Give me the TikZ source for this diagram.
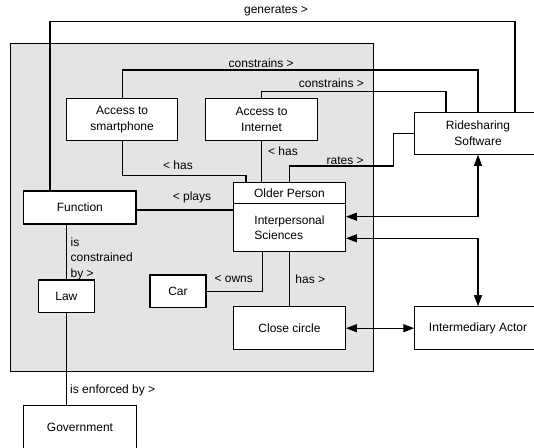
\documentclass[tikz,border=0pt]{standalone}
\usepackage{fontspec}
\setmainfont{Liberation Sans}
\usetikzlibrary{arrows.meta}
\definecolor{graybg}{HTML}{E4E4E4}
\begin{document}
\begin{tikzpicture}[x=1pt,y=-1pt,
  box/.style={draw,line width=1.1pt,fill=white,inner sep=0pt,align=center,font=\fontsize{12}{15.5}\selectfont},
  lbl/.style={inner sep=0pt,font=\fontsize{12}{15.5}\selectfont},
  conn/.style={line width=1.1pt},
  tips/.style={{Triangle[length=11pt,width=8pt]}-{Triangle[length=11pt,width=8pt]}}]
\useasboundingbox (0,0) rectangle (534,447);
\clip (0,0) rectangle (534,447);
\draw[line width=1.1pt, fill=graybg] (10.2,43.3) rectangle (373.4,371.7);
% nodes
\node[box,minimum width=111.4pt,minimum height=41.6pt] (smart) at (122.1,119.5) {Access to\\smartphone};
\node[box,minimum width=111.7pt,minimum height=41.6pt] (inet) at (261.55,119.5) {Access to\\Internet};
\node[box,minimum width=126.4pt,minimum height=41.7pt] (ride) at (478,133.35) {Ridesharing\\Software};
\node[box,minimum width=112.2pt,minimum height=33pt] (func) at (79.9,207.5) {Function};
\node[box,minimum width=111.8pt,minimum height=21pt] (oldtop) at (289.5,193.2) {Older Person};
\node[box,minimum width=111.8pt,minimum height=48pt,align=left] (oldbot) at (289.5,227.7) {Interpersonal\\Sciences};
\node[box,minimum width=55.8pt,minimum height=32.7pt] (law) at (66.4,296.35) {Law};
\node[box,minimum width=56pt,minimum height=32.7pt] (car) at (178,291.35) {Car};
\node[box,minimum width=111.8pt,minimum height=43pt] (close) at (289.5,328.2) {Close circle};
\node[box,minimum width=126.4pt,minimum height=43pt] (inter) at (478,328.2) {Intermediary Actor};
\node[box,minimum width=112.4pt,minimum height=43pt] (gov) at (80,427.2) {Government};
% coordinates
\coordinate (g1) at (50,21.7); \coordinate (g2) at (515,21.7);
\coordinate (c1a) at (122.1,70); \coordinate (c1b) at (478,70);
\coordinate (c2a) at (261.55,91.7); \coordinate (c2b) at (446,91.7);
\coordinate (r1) at (393.7,166); \coordinate (r2) at (289.5,166);
\coordinate (h1) at (122.1,175.7); \coordinate (h2) at (246,175.7);
\coordinate (pl) at (136,210);
\coordinate (a1) at (478,216.7);
\coordinate (b1) at (478,238.3);
\coordinate (o1) at (262.3,291.7);
% connectors
\draw[conn] (func.north -| g1) -- (g1) -- (g2) -- (ride.north -| g2);
\draw[conn] (smart.north) -- (c1a) -- (c1b) -- (ride.north);
\draw[conn] (inet.north) -- (c2a) -- (c2b) -- (ride.north -| c2b);
\draw[conn] (ride.west) -| (r1) -- (r2) -- (oldtop.north);
\draw[conn] (smart.south) -- (h1) -- (h2) -- (oldtop.north -| h2);
\draw[conn] (inet.south) -- (oldtop.north -| inet.south);
\draw[conn] (func.east |- pl) -- (oldbot.west |- pl);
\draw[conn,tips] (ride.south) -- (a1) -- (oldbot.east |- a1);
\draw[conn,tips] (oldbot.east |- b1) -- (b1) -- (inter.north);
\draw[conn] (func.south -| law.north) -- (law.north);
\draw[conn] (oldbot.south -| o1) -- (o1) -- (car.east |- o1);
\draw[conn] (oldbot.south) -- (close.north);
\draw[conn,tips] (close.east) -- (inter.west);
\draw[conn] (law.south) -- (gov.north -| law.south);
% labels
\node[lbl] (lgen) at (276,11) {generates >};
\node[lbl] (lc1) at (261.2,63.3) {constrains >};
\node[lbl] (lc2) at (331.4,83.3) {constrains >};
\node[lbl] (lrates) at (345.2,160.7) {rates >};
\node[lbl] (lhas1) at (178,165.7) {< has};
\node[lbl] (lhas2) at (283,151) {< has};
\node[lbl] (lplays) at (192,197.7) {< plays};
\node[lbl,align=left,anchor=west] (lcons) at (70.5,258.5) {is\\constrained\\by >};
\node[lbl] (lowns) at (233.7,279) {< owns};
\node[lbl] (lhas3) at (310.3,279) {has >};
\node[lbl,anchor=west] (lenf) at (70,390.5) {is enforced by >};
\end{tikzpicture}
\end{document}
